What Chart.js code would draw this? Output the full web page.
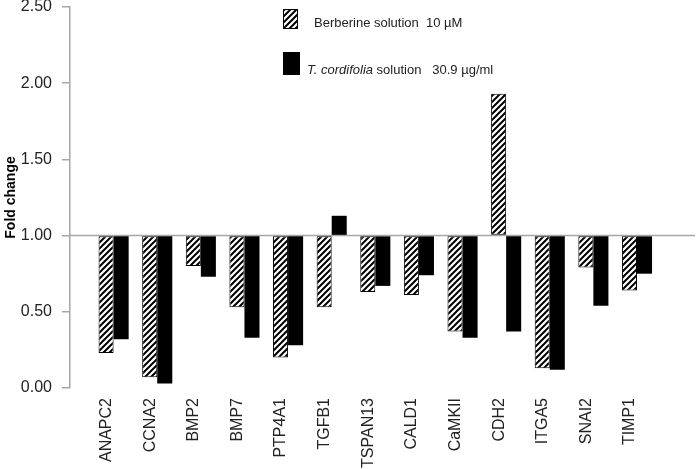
<!DOCTYPE html>
<html>
<head>
<meta charset="utf-8">
<script src="https://cdn.jsdelivr.net/npm/chart.js@4.4.0/dist/chart.umd.min.js"></script>
<style>
  html, body { margin: 0; padding: 0; background: #fff; }
  #wrap { width: 696px; height: 469px; }
</style>
</head>
<body>
<div id="wrap"><canvas id="grafico"></canvas></div>
<script>
// dados (fold change, base = 1.00)
var genes = ['ANAPC2', 'CCNA2', 'BMP2', 'BMP7', 'PTP4A1', 'TGFB1', 'TSPAN13',
    'CALD1', 'CaMKII', 'CDH2', 'ITGA5', 'SNAI2', 'TIMP1'];
var berberina = [0.23, 0.07, 0.80, 0.53, 0.20, 0.53, 0.63, 0.61, 0.37, 1.93, 0.13, 0.79, 0.64];
var cordifolia = [0.32, 0.03, 0.73, 0.33, 0.28, 1.13, 0.67, 0.74, 0.33, 0.37, 0.12, 0.54, 0.75];
var yTicks = [0, 0.5, 1, 1.5, 2, 2.5];

function hachura() {
    var c = document.createElement('canvas');
    c.width = 6;
    c.height = 6;
    var g = c.getContext('2d');
    g.fillStyle = '#fff';
    g.fillRect(0, 0, 6, 6);
    g.strokeStyle = '#000';
    g.lineWidth = 2;
    g.beginPath();
    g.moveTo(-1, 7); g.lineTo(7, -1);
    g.moveTo(-4, 4); g.lineTo(4, -4);
    g.moveTo(2, 10); g.lineTo(10, 2);
    g.stroke();
    return g.createPattern(c, 'repeat');
}
var padrao = hachura();

// linha horizontal em 1.00
var linhaBase = {
    id: 'linhaBase',
    beforeDatasetsDraw: function (chart) {
        var ctx = chart.ctx;
        var y = chart.scales.y.getPixelForValue(1);
        ctx.save();
        ctx.strokeStyle = '#a6a6a6';
        ctx.lineWidth = 1.5;
        ctx.beginPath();
        ctx.moveTo(chart.chartArea.left, y);
        ctx.lineTo(chart.chartArea.right, y);
        ctx.stroke();
        ctx.restore();
    }
};

// legenda desenhada a mao (texto com italico)
var legenda = {
    id: 'legenda',
    afterDraw: function (chart) {
        var ctx = chart.ctx;
        ctx.save();
        ctx.fillStyle = padrao;
        ctx.fillRect(283, 9, 15, 20);
        ctx.strokeStyle = '#000';
        ctx.lineWidth = 1;
        ctx.strokeRect(283.5, 9.5, 14, 19);
        ctx.fillStyle = '#000';
        ctx.fillRect(283, 52, 17, 23);

        ctx.fillStyle = '#222';
        ctx.textBaseline = 'middle';
        ctx.font = '13px "Liberation Sans", Arial, sans-serif';
        ctx.fillText('Berberine solution  10 \u00b5M', 314, 23);

        ctx.font = 'italic 13px "Liberation Sans", Arial, sans-serif';
        ctx.fillText('T. cordifolia', 307, 70);
        var w = ctx.measureText('T. cordifolia').width;
        ctx.font = '13px "Liberation Sans", Arial, sans-serif';
        ctx.fillText(' solution   30.9 \u00b5g/ml', 307 + w, 70);
        ctx.restore();
    }
};

var ctx = document.getElementById('grafico').getContext('2d');
var grafico = new Chart(ctx, {
    type: 'bar',
    data: {
        datasets: [{
            label: 'Berberine solution 10 \u00b5M',
            data: genes.map(function (g, i) { return { x: i + 1, y: berberina[i] }; }),
            base: 1,
            backgroundColor: padrao,
            borderColor: '#000',
            borderWidth: 1,
            borderSkipped: false
        }, {
            label: 'T. cordifolia solution 30.9 \u00b5g/ml',
            data: genes.map(function (g, i) { return { x: i + 1, y: cordifolia[i] }; }),
            base: 1,
            backgroundColor: '#000',
            borderColor: '#000',
            borderWidth: 0
        }]
    },
    options: {
        responsive: true,
        maintainAspectRatio: false,
        animation: false,
        categoryPercentage: 0.69,
        barPercentage: 1,
        layout: { padding: { top: 7, right: 1, left: 0, bottom: 0 } },
        plugins: {
            legend: { display: false },
            tooltip: { enabled: false }
        },
        scales: {
            x: {
                type: 'linear',
                min: 0,
                max: 14.33,
                offset: false,
                grid: { display: false, drawTicks: false },
                border: { display: false },
                afterFit: function (scale) {
                    scale.height = 81;
                    scale.paddingLeft = 0;
                    scale.paddingRight = 0;
                },
                ticks: {
                    stepSize: 1,
                    autoSkip: false,
                    minRotation: 90,
                    maxRotation: 90,
                    padding: 10,
                    labelOffset: -7,
                    color: '#222',
                    font: { family: '"Liberation Sans", Arial, sans-serif', size: 16 },
                    callback: function (v) {
                        return Number.isInteger(v) && genes[v - 1] ? genes[v - 1] : '';
                    }
                }
            },
            y: {
                min: 0,
                max: 2.5,
                afterFit: function (scale) {
                    scale.width = 70;
                    scale.paddingTop = 0;
                    scale.paddingBottom = 0;
                },
                afterBuildTicks: function (scale) {
                    scale.ticks = yTicks.map(function (v) { return { value: v }; });
                },
                grid: {
                    drawOnChartArea: false,
                    drawTicks: true,
                    tickLength: 8,
                    color: '#a6a6a6',
                    lineWidth: 1.5
                },
                border: { display: true, color: '#a6a6a6', width: 1.5 },
                title: {
                    display: true,
                    text: 'Fold change',
                    color: '#000',
                    padding: { top: 3, bottom: 0 },
                    font: { family: '"Liberation Sans", Arial, sans-serif', size: 14, weight: 'bold' }
                },
                ticks: {
                    padding: 10,
                    color: '#222',
                    font: { family: '"Liberation Sans", Arial, sans-serif', size: 16 },
                    callback: function (v) { return v.toFixed(2); }
                }
            }
        }
    },
    plugins: [linhaBase, legenda]
});
</script>
</body>
</html>
